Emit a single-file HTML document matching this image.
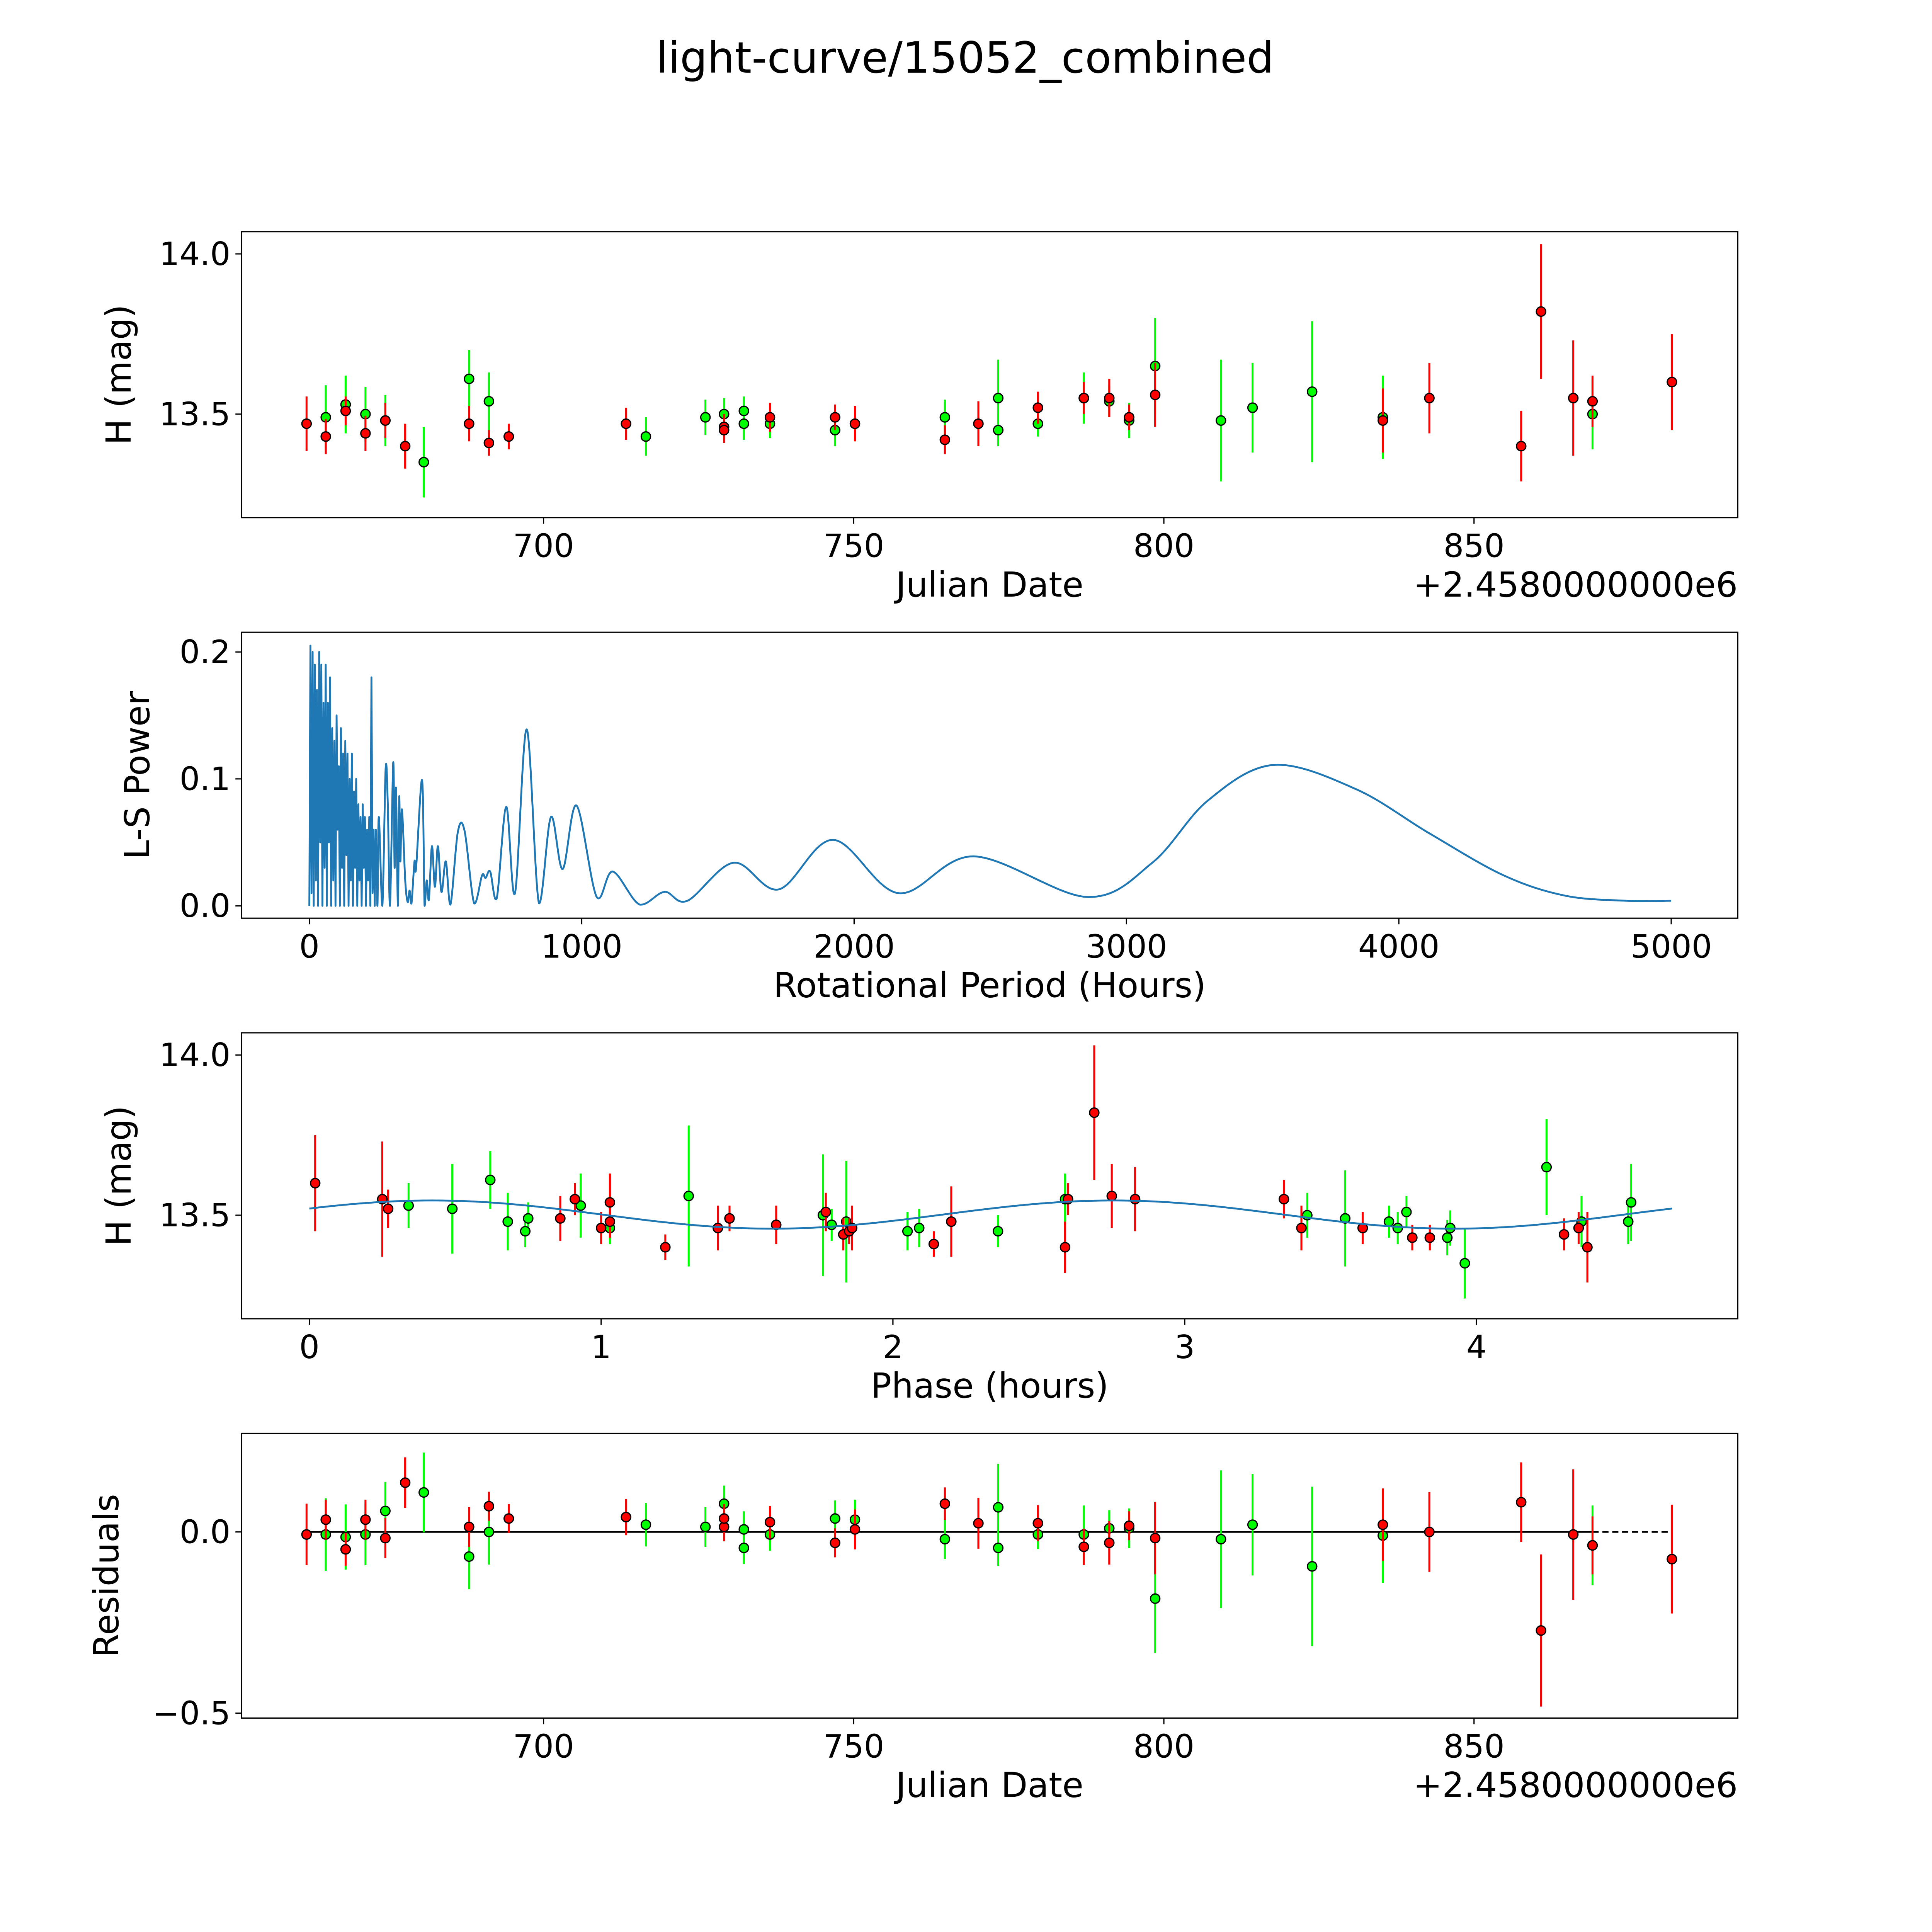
<!DOCTYPE html>
<html><head><meta charset="utf-8"><title>light-curve/15052_combined</title>
<style>html,body{margin:0;padding:0;background:#fff;overflow:hidden;width:5400px;height:5400px}svg{display:block}text{font-family:"DejaVu Sans","Liberation Sans",sans-serif;fill:#000}</style>
</head><body>
<svg id="fig" xmlns="http://www.w3.org/2000/svg" width="5400" height="5400" viewBox="0 0 1693 1693">
<rect x="0" y="0" width="1693" height="1693" fill="#fff"/>
<text x="783" y="59" font-size="35" text-anchor="middle">light-curve/15052_combined</text>
<g id="p1"></g>
<g id="p2"></g>
<g id="p3"></g>
<g id="p4"></g>
</svg>
<script>
// ---- data: light curve (Julian date offset, mag, err, filter) ----
const jd    = [661.8,664.9,664.9,668.1,668.1,671.3,671.3,674.5,674.5,677.7,680.7,688.0,688.0,691.2,691.2,694.4,713.3,716.5,726.1,729.1,729.1,729.1,732.3,732.3,736.5,736.5,747.0,747.0,750.2,750.2,764.7,764.7,770.1,773.3,773.3,779.7,779.7,787.1,787.1,791.2,791.2,794.4,794.4,798.6,798.6,809.2,814.3,823.9,835.3,835.3,842.8,857.6,860.8,866.0,869.1,869.1,881.9];
const mag   = [13.47,13.49,13.43,13.53,13.51,13.50,13.44,13.48,13.48,13.40,13.35,13.61,13.47,13.54,13.41,13.43,13.47,13.43,13.49,13.50,13.46,13.45,13.51,13.47,13.49,13.47,13.49,13.45,13.47,13.47,13.49,13.42,13.47,13.55,13.45,13.52,13.47,13.55,13.55,13.55,13.54,13.49,13.48,13.65,13.56,13.48,13.52,13.57,13.49,13.48,13.55,13.40,13.82,13.55,13.54,13.50,13.60];
const magErr= [0.085,0.10,0.055,0.09,0.045,0.085,0.055,0.08,0.055,0.07,0.11,0.09,0.055,0.09,0.04,0.04,0.05,0.06,0.055,0.05,0.04,0.04,0.045,0.05,0.045,0.045,0.04,0.05,0.055,0.055,0.055,0.045,0.07,0.12,0.05,0.05,0.04,0.08,0.05,0.06,0.05,0.04,0.055,0.15,0.10,0.19,0.14,0.22,0.13,0.10,0.11,0.11,0.21,0.18,0.08,0.11,0.15];
const band  = ["r","g","r","g","r","g","r","g","r","r","g","g","r","g","r","r","r","g","g","g","r","r","g","g","r","g","r","g","g","r","g","r","r","g","g","r","g","g","r","r","g","r","g","g","r","g","g","g","g","r","r","r","r","r","r","g","r"];
const resid = [-0.007,-0.007,0.034,-0.014,-0.048,-0.007,0.034,0.058,-0.017,0.136,0.109,-0.068,0.014,0.0,0.071,0.037,0.041,0.02,0.014,0.078,0.014,0.037,-0.044,0.007,0.027,-0.007,-0.03,0.037,0.034,0.007,-0.02,0.078,0.024,0.068,-0.044,0.024,-0.007,-0.007,-0.041,-0.03,0.01,0.017,0.01,-0.184,-0.017,-0.02,0.02,-0.095,-0.01,0.02,0.0,0.082,-0.272,-0.007,-0.037,-0.037,-0.075];
// ---- data: phase-folded ----
const phase   = [0.02,0.25,0.27,0.34,0.49,0.62,0.68,0.74,0.75,0.86,0.91,0.93,1.0,1.03,1.03,1.03,1.22,1.30,1.40,1.44,1.60,1.76,1.77,1.79,1.83,1.84,1.85,1.86,2.05,2.09,2.14,2.20,2.36,2.59,2.59,2.60,2.69,2.75,2.83,3.34,3.40,3.42,3.55,3.61,3.70,3.73,3.76,3.78,3.84,3.90,3.91,3.96,4.24,4.30,4.35,4.36,4.38,4.52,4.53];
const phMag   = [13.60,13.55,13.52,13.53,13.52,13.61,13.48,13.45,13.49,13.49,13.55,13.53,13.46,13.46,13.48,13.54,13.40,13.56,13.46,13.49,13.47,13.50,13.51,13.47,13.44,13.48,13.45,13.46,13.45,13.46,13.41,13.48,13.45,13.55,13.40,13.55,13.82,13.56,13.55,13.55,13.46,13.50,13.49,13.46,13.48,13.46,13.51,13.43,13.43,13.43,13.46,13.35,13.65,13.44,13.46,13.48,13.40,13.48,13.54];
const phErr   = [0.15,0.18,0.06,0.07,0.14,0.09,0.09,0.05,0.05,0.07,0.05,0.10,0.05,0.05,0.05,0.09,0.04,0.22,0.07,0.04,0.06,0.19,0.06,0.05,0.05,0.19,0.04,0.07,0.06,0.06,0.04,0.11,0.05,0.08,0.08,0.05,0.21,0.10,0.10,0.06,0.07,0.07,0.15,0.05,0.05,0.05,0.05,0.04,0.04,0.055,0.055,0.11,0.15,0.05,0.05,0.08,0.11,0.07,0.12];
const phBand  = ["r","r","r","g","g","g","g","g","g","r","r","g","r","g","r","r","r","g","r","r","r","g","r","g","r","g","r","r","g","g","r","r","g","g","r","r","r","r","r","r","r","g","g","r","g","g","g","r","r","g","g","g","g","r","r","g","r","g","g"];
const fitMean = 13.502, fitAmp = 0.044, fitPeriod = 2.335, fitOffset = -0.164, phaseMax = 4.67;
// ---- data: periodogram ----
const periods = [0,4,8,12,16,20,24,28,32,36,40,44,48,52,56,60,64,68,72,76,80,84,88,92,96,100,104,108,112,116,120,124,128,132,136,140,144,148,152,156,160,164,168,172,176,180,184,188,192,196,200,204,208,212,216,220,224,228,232,236,240,244,
 250,255,268,280,288,296,308,313,318,325,330,334,340,352,361,368,375,386,392,414,423,431,439,450,461,472,485,501,518,545,570,605,634,647,664,688,723,755,798,843,887,930,981,1055,1114,1213,1304,1388,1558,1724,1923,2163,2439,2855,3095,3299,3540,3842,4113,4385,4611,4837,5000];
const powers  = [0.0,0.205,0.01,0.2,0.0,0.19,0.02,0.17,0.0,0.2,0.05,0.19,0.0,0.16,0.03,0.19,0.0,0.16,0.05,0.18,0.0,0.14,0.02,0.13,0.0,0.15,0.06,0.11,0.0,0.14,0.03,0.12,0.0,0.13,0.04,0.12,0.0,0.10,0.02,0.12,0.0,0.09,0.03,0.10,0.0,0.08,0.02,0.07,0.0,0.08,0.03,0.07,0.0,0.06,0.02,0.07,0.0,0.18,0.01,0.06,0.0,0.06,
 0.0,0.070,0.0,0.108,0.08,0.0,0.113,0.03,0.093,0.0,0.086,0.035,0.076,0.02,0.003,0.012,0.002,0.035,0.03,0.099,0.0,0.02,0.005,0.047,0.015,0.047,0.011,0.035,0.001,0.058,0.059,0.002,0.024,0.022,0.027,0.006,0.078,0.010,0.139,0.002,0.070,0.029,0.079,0.007,0.027,0.001,0.011,0.004,0.034,0.013,0.052,0.010,0.039,0.007,0.034,0.083,0.111,0.092,0.057,0.024,0.008,0.004,0.004];

const NS='http://www.w3.org/2000/svg';
function mk(parent,tag,attrs){const e=document.createElementNS(NS,tag);for(const k in attrs)e.setAttribute(k,attrs[k]);parent.appendChild(e);return e;}
function lin(d0,d1,r0,r1){return v=>r0+(v-d0)*(r1-r0)/(d1-d0);}
const L=196,R=1410;
function frame(g,top,bot,xs,ys,xt,yt,xlabel,ylabel,ylabX){
  const gt=mk(g,'g',{});
  
  
  xt.forEach(t=>{const x=xs(t.v);mk(gt,'line',{x1:x,x2:x,y1:bot,y2:bot+5,stroke:'#000','stroke-width':1});
    const tx=mk(gt,'text',{x:x,y:bot+32,'font-size':26,'text-anchor':'middle'});tx.textContent=t.l;
    
    });
  yt.forEach(t=>{const y=ys(t.v);mk(gt,'line',{x1:L-5,x2:L,y1:y,y2:y,stroke:'#000','stroke-width':1});
    const tx=mk(gt,'text',{x:L-9,y:y+9,'font-size':26,'text-anchor':'end'});tx.textContent=t.l;
    
    });
  const xl=mk(g,'text',{x:(L+R)/2,y:bot+64,'font-size':28,'text-anchor':'middle'});xl.textContent=xlabel;
  
  
  const yc=(top+bot)/2;
  const yl=mk(g,'text',{x:ylabX,y:yc,'font-size':28,'text-anchor':'middle',transform:`rotate(-90 ${ylabX} ${yc})`});yl.textContent=ylabel;
  
  
}
function spine(g,top,bot){const r=mk(g,'rect',{x:L,y:top,width:R-L,height:bot-top,fill:'none',stroke:'#000','stroke-width':1});
  
  }
function clip(id,top,bot){const d=mk(document.getElementById('fig'),'clipPath',{id:id});mk(d,'rect',{x:L,y:top,width:R-L,height:bot-top});}
const COL={r:'#ff0000',g:'#00ff00'};
function pts(g,xs,ys,xv,yv,ev,bv){
  ['g','r'].forEach(b=>{
    for(let i=0;i<xv.length;i++){ if(bv[i]!==b)continue;
      const x=xs(xv[i]);
      const eb=mk(g,'line',{x1:x,x2:x,y1:ys(yv[i]+ev[i]),y2:ys(yv[i]-ev[i]),stroke:COL[b],'stroke-width':1.6});
      
      
    }
    for(let i=0;i<xv.length;i++){ if(bv[i]!==b)continue;
      const c=mk(g,'circle',{cx:xs(xv[i]),cy:ys(yv[i]),r:3.8,fill:COL[b],stroke:'#000','stroke-width':1});
      
      
    }
  });
}
const jdTicks=[{v:700,l:'700'},{v:750,l:'750'},{v:800,l:'800'},{v:850,l:'850'}];
const xsJD=lin(700,850,441,1196);
// Panel 1
(function(){const g=document.getElementById('p1');const top=188,bot=420;
  const ys=lin(13.5,14.0,336,206);
  frame(g,top,bot,xsJD,ys,jdTicks,[{v:13.5,l:'13.5'},{v:14.0,l:'14.0'}],'Julian Date','H (mag)',106);
  const off=mk(g,'text',{x:R,y:bot+64,'font-size':28,'text-anchor':'end'});off.textContent='+2.4580000000e6';
  
  
  clip('c1',top,bot);const d=mk(g,'g',{'clip-path':'url(#c1)'});
  pts(d,xsJD,ys,jd,mag,magErr,band);spine(g,top,bot);})();
// Panel 2
(function(){const g=document.getElementById('p2');const top=513,bot=745;
  const xs=lin(0,5000,251,1356),ys=lin(0,0.1,735,632);
  frame(g,top,bot,xs,ys,[0,1000,2000,3000,4000,5000].map(v=>({v:v,l:String(v)})),[0,0.1,0.2].map(v=>({v:v,l:v.toFixed(1)})),'Rotational Period (Hours)','L-S Power',121);
  clip('c2',top,bot);const d=mk(g,'g',{'clip-path':'url(#c2)'});
  let s='';let i=0;
  for(;i<periods.length&&periods[i]<250;i++){s+=(i?'L':'M')+xs(periods[i]).toFixed(2)+','+ys(powers[i]).toFixed(2);}
  const P=periods.map(xs),Q=powers.map(ys);
  for(;i<periods.length;i++){
    const i0=Math.max(i-2,0),i1=i-1,i2=i,i3=Math.min(i+1,periods.length-1);
    const c1x=P[i1]+(P[i2]-P[i0])/6,c1y=Q[i1]+(Q[i2]-Q[i0])/6;
    const c2x=P[i2]-(P[i3]-P[i1])/6,c2y=Q[i2]-(Q[i3]-Q[i1])/6;
    s+=`C${c1x.toFixed(2)},${Math.min(c1y,735).toFixed(2)} ${c2x.toFixed(2)},${Math.min(c2y,735).toFixed(2)} ${P[i2].toFixed(2)},${Q[i2].toFixed(2)}`;
  }
  const p=mk(d,'path',{d:s,fill:'none',stroke:'#1f77b4','stroke-width':1.5,'stroke-linejoin':'round'});
  
  
  spine(g,top,bot);})();
// Panel 3
(function(){const g=document.getElementById('p3');const top=838,bot=1070;
  const xs=lin(0,4,251,1198),ys=lin(13.5,14.0,986,856);
  frame(g,top,bot,xs,ys,[0,1,2,3,4].map(v=>({v:v,l:String(v)})),[{v:13.5,l:'13.5'},{v:14.0,l:'14.0'}],'Phase (hours)','H (mag)',106);
  clip('c3',top,bot);const d=mk(g,'g',{'clip-path':'url(#c3)'});
  pts(d,xs,ys,phase,phMag,phErr,phBand);
  let s='';for(let k=0;k<=300;k++){const ph=phaseMax*k/300;const m=fitMean+fitAmp*Math.sin(2*Math.PI*(ph-fitOffset)/fitPeriod);s+=(k?'L':'M')+xs(ph).toFixed(2)+','+ys(m).toFixed(2);}
  const c=mk(d,'path',{d:s,fill:'none',stroke:'#1f77b4','stroke-width':1.5});
  
  
  spine(g,top,bot);})();
// Panel 4
(function(){const g=document.getElementById('p4');const top=1163,bot=1394;
  const ys=lin(0,-0.5,1243,1390);
  frame(g,top,bot,xsJD,ys,jdTicks,[{v:0,l:'0.0'},{v:-0.5,l:'\u22120.5'}],'Julian Date','Residuals',96);
  const off=mk(g,'text',{x:R,y:bot+64,'font-size':28,'text-anchor':'end'});off.textContent='+2.4580000000e6';
  
  
  clip('c4',top,bot);const d=mk(g,'g',{'clip-path':'url(#c4)'});
  const l1=mk(d,'line',{x1:xsJD(jd[0]),x2:xsJD(869.1),y1:ys(0),y2:ys(0),stroke:'#000','stroke-width':1.3});
  
  
  const l2=mk(d,'line',{x1:xsJD(869.1),x2:xsJD(jd[jd.length-1]),y1:ys(0),y2:ys(0),stroke:'#000','stroke-width':1.3,'stroke-dasharray':'5,3'});
  
  
  pts(d,xsJD,ys,jd,resid,magErr,band);
  spine(g,top,bot);})();
</script>
</body></html>
